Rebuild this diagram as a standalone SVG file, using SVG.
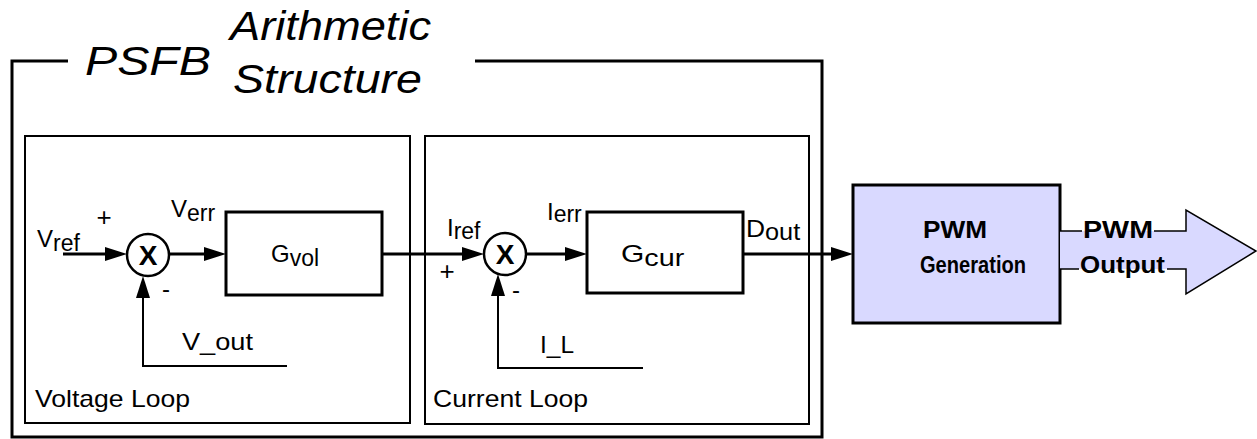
<svg xmlns="http://www.w3.org/2000/svg" width="1257" height="439" viewBox="0 0 1257 439">
<style>
text{font-family:"Liberation Sans",Arial,sans-serif;fill:#000}
.t{font-size:24px}
.s{font-size:23px}
.pm{font-size:26px}
.title{font-size:40px;font-style:italic}
.b{font-size:23px;font-weight:bold}
.x{font-size:28px;font-weight:bold}
.box{fill:none;stroke:#000;stroke-width:3}
.loop{fill:none;stroke:#000;stroke-width:2}
.wire{fill:none;stroke:#000;stroke-width:3}
.fb{fill:none;stroke:#000;stroke-width:2}
.sum{fill:#fff;stroke:#000;stroke-width:2.5}
.pwm{fill:#d9d9ff;stroke:#000;stroke-width:3}
.out{fill:#d9d9ff;stroke:none}
.outline{fill:none;stroke:#000;stroke-width:1.5}
</style>
<defs>
<marker id="ah" markerUnits="userSpaceOnUse" markerWidth="22" markerHeight="14" refX="14" refY="7" orient="auto" viewBox="0 0 22 14">
<path d="M0,0 L22,7 L0,14 z" fill="#000"/>
</marker>
</defs>

<g id="frame">
<path class="box" d="M68,61 H12 V437 H822 V61 H475"/>
<text class="title" x="85" y="75" textLength="126" lengthAdjust="spacingAndGlyphs">PSFB</text>
<text class="title" x="230" y="40" textLength="201" lengthAdjust="spacingAndGlyphs">Arithmetic</text>
<text class="title" x="233" y="93" textLength="189" lengthAdjust="spacingAndGlyphs">Structure</text>
</g>

<g id="voltage-loop">
<rect class="loop" x="25" y="136" width="385" height="287"/>
<text class="t" x="35" y="407" textLength="155" lengthAdjust="spacingAndGlyphs">Voltage Loop</text>
</g>

<g id="current-loop">
<rect class="loop" x="425" y="136" width="384" height="288"/>
<text class="t" x="433" y="407" textLength="155" lengthAdjust="spacingAndGlyphs">Current Loop</text>
</g>

<g id="connectors">
<path class="wire" d="M63,254 H119" marker-end="url(#ah)"/>
<path class="wire" d="M169,254 H218" marker-end="url(#ah)"/>
<path class="fb" d="M287,366 H143 V284" marker-end="url(#ah)"/>
<path class="wire" d="M382,254 H476" marker-end="url(#ah)"/>
<path class="wire" d="M526,254 H579" marker-end="url(#ah)"/>
<path class="fb" d="M643,368 H498 V282" marker-end="url(#ah)"/>
<path class="wire" d="M743,254 H845" marker-end="url(#ah)"/>
</g>

<g id="sum-v">
<circle class="sum" cx="148" cy="255" r="21"/>
<text class="x" x="148" y="265" text-anchor="middle">X</text>
</g>
<g id="sum-i">
<circle class="sum" cx="505" cy="254" r="21"/>
<text class="x" x="505" y="264" text-anchor="middle">X</text>
</g>

<g id="gvol">
<rect class="box" x="226" y="212" width="156" height="83"/>
<text class="t" x="271" y="262">G<tspan class="s" dy="4">vol</tspan></text>
</g>
<g id="gcur">
<rect class="box" x="587" y="212" width="156" height="81"/>
<text class="t" transform="translate(621,262) scale(1.25,1)" x="0" y="0">G<tspan class="s" dy="4">cur</tspan></text>
</g>

<g id="labels">
<text class="t" x="37" y="247">V<tspan class="s" dy="4">ref</tspan></text>
<text class="pm" x="104" y="226" text-anchor="middle">+</text>
<text class="t" x="171" y="217">V<tspan class="s" dy="4">err</tspan></text>
<text class="t" x="166" y="297" text-anchor="middle">-</text>
<text class="t" x="182" y="350" textLength="71" lengthAdjust="spacingAndGlyphs">V_out</text>
<text class="t" x="447" y="236">I<tspan class="s" dy="3">ref</tspan></text>
<text class="pm" x="447" y="280" text-anchor="middle">+</text>
<text class="t" x="516" y="298" text-anchor="middle">-</text>
<text class="t" x="547" y="220">I<tspan class="s" dy="2">err</tspan></text>
<text class="t" transform="translate(746,237) scale(1.1,1)" x="0" y="0">D<tspan class="s" dy="3">out</tspan></text>
<text class="t" x="540" y="353" textLength="34" lengthAdjust="spacingAndGlyphs">I_L</text>
</g>

<g id="pwm-generation">
<rect class="pwm" x="853" y="185" width="207" height="138"/>
<text class="b" x="923" y="238" textLength="64" lengthAdjust="spacingAndGlyphs">PWM</text>
<text class="b" x="920" y="273" textLength="106" lengthAdjust="spacingAndGlyphs">Generation</text>
</g>

<g id="pwm-output">
<polygon class="out" points="1060,231 1186,231 1186,210 1256,251 1186,294 1186,269 1060,269"/>
<path class="outline" d="M1060,231 H1082 M1154,231 H1186 V210 L1256,251 L1186,294 V269 H1167 M1079,269 H1060"/>
<text class="b" x="1083" y="238" textLength="70" lengthAdjust="spacingAndGlyphs">PWM</text>
<text class="b" x="1080" y="273" textLength="85" lengthAdjust="spacingAndGlyphs">Output</text>
</g>
</svg>
